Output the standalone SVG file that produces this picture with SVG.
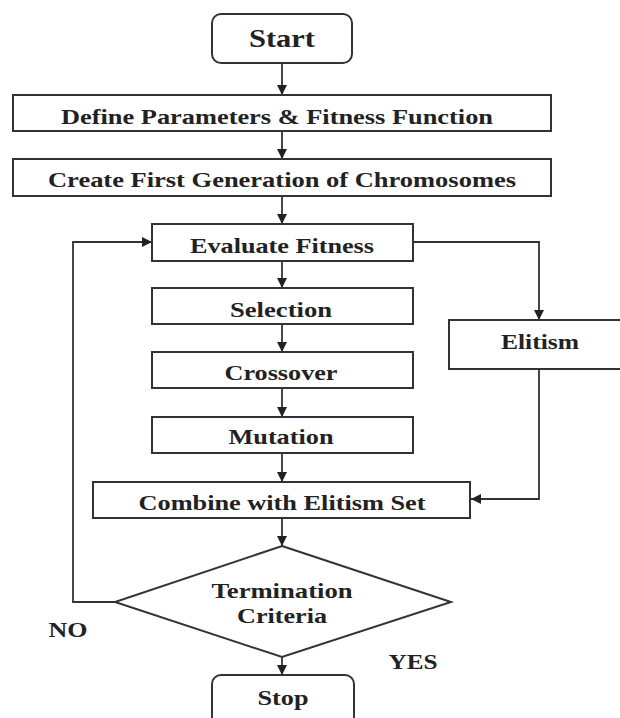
<svg xmlns="http://www.w3.org/2000/svg" width="620" height="718" viewBox="0 0 620 718">
<style>
.box{fill:#fff;stroke:#333;stroke-width:2}
.ln{fill:none;stroke:#333;stroke-width:1.8}
.t{font-family:"Liberation Serif","Times New Roman",serif;font-weight:bold;font-size:22px;fill:#222;text-anchor:middle}
</style>
<defs>
<marker id="ah" markerUnits="userSpaceOnUse" markerWidth="10" markerHeight="10" refX="10" refY="5" orient="auto">
<path d="M0,0 L10,5 L0,10 z" fill="#222"/>
</marker>
</defs>
<rect width="620" height="718" fill="#fff"/>
<g id="connectors">
<line class="ln" x1="282" y1="63" x2="282" y2="95" marker-end="url(#ah)"/>
<line class="ln" x1="282" y1="131" x2="282" y2="159" marker-end="url(#ah)"/>
<line class="ln" x1="282" y1="196" x2="282" y2="224" marker-end="url(#ah)"/>
<line class="ln" x1="282" y1="261" x2="282" y2="288" marker-end="url(#ah)"/>
<line class="ln" x1="282" y1="324" x2="282" y2="352" marker-end="url(#ah)"/>
<line class="ln" x1="282" y1="388" x2="282" y2="417" marker-end="url(#ah)"/>
<line class="ln" x1="282" y1="453" x2="282" y2="482" marker-end="url(#ah)"/>
<line class="ln" x1="282" y1="518" x2="282" y2="546" marker-end="url(#ah)"/>
<line class="ln" x1="282" y1="657" x2="282" y2="675" marker-end="url(#ah)"/>
<polyline class="ln" points="413,242 539,242 539,320" marker-end="url(#ah)"/>
<polyline class="ln" points="539,369 539,499 471,499" marker-end="url(#ah)"/>
<polyline class="ln" points="115,602 73,602 73,242 152,242" marker-end="url(#ah)"/>
</g>
<g id="start">
<rect class="box" x="212" y="14" width="140" height="49" rx="9"/>
<text class="t" x="282" y="47" font-size="25" style="font-size:25px" textLength="66" lengthAdjust="spacingAndGlyphs">Start</text>
</g>
<g id="define">
<rect class="box" x="13" y="95" width="538" height="36"/>
<text class="t" x="277" y="124" textLength="432" lengthAdjust="spacingAndGlyphs">Define Parameters &amp; Fitness Function</text>
</g>
<g id="create">
<rect class="box" x="13" y="159" width="538" height="37"/>
<text class="t" x="282" y="187" textLength="468" lengthAdjust="spacingAndGlyphs">Create First Generation of Chromosomes</text>
</g>
<g id="evaluate">
<rect class="box" x="152" y="224" width="261" height="37"/>
<text class="t" x="282" y="253" textLength="184" lengthAdjust="spacingAndGlyphs">Evaluate Fitness</text>
</g>
<g id="selection">
<rect class="box" x="152" y="288" width="261" height="36"/>
<text class="t" x="281" y="317" textLength="102" lengthAdjust="spacingAndGlyphs">Selection</text>
</g>
<g id="crossover">
<rect class="box" x="152" y="352" width="261" height="36"/>
<text class="t" x="281" y="380" textLength="113" lengthAdjust="spacingAndGlyphs">Crossover</text>
</g>
<g id="mutation">
<rect class="box" x="152" y="417" width="261" height="36"/>
<text class="t" x="281" y="444" textLength="105" lengthAdjust="spacingAndGlyphs">Mutation</text>
</g>
<g id="elitism">
<rect class="box" x="449" y="320" width="190" height="49"/>
<text class="t" x="540" y="349" textLength="78" lengthAdjust="spacingAndGlyphs">Elitism</text>
</g>
<g id="combine">
<rect class="box" x="93" y="482" width="377" height="36"/>
<text class="t" x="282" y="510" textLength="287" lengthAdjust="spacingAndGlyphs">Combine with Elitism Set</text>
</g>
<g id="termination">
<polygon class="box" points="282,546 451,602 282,657 115,602"/>
<text class="t" x="282" y="598" textLength="141" lengthAdjust="spacingAndGlyphs">Termination</text>
<text class="t" x="282" y="623" textLength="90" lengthAdjust="spacingAndGlyphs">Criteria</text>
</g>
<g id="stop">
<rect class="box" x="212" y="675" width="142" height="60" rx="9"/>
<text class="t" x="283" y="705" textLength="51" lengthAdjust="spacingAndGlyphs">Stop</text>
</g>
<g id="labels">
<text class="t" x="68" y="637" textLength="39" lengthAdjust="spacingAndGlyphs">NO</text>
<text class="t" x="413" y="669" textLength="49" lengthAdjust="spacingAndGlyphs">YES</text>
</g>
</svg>
